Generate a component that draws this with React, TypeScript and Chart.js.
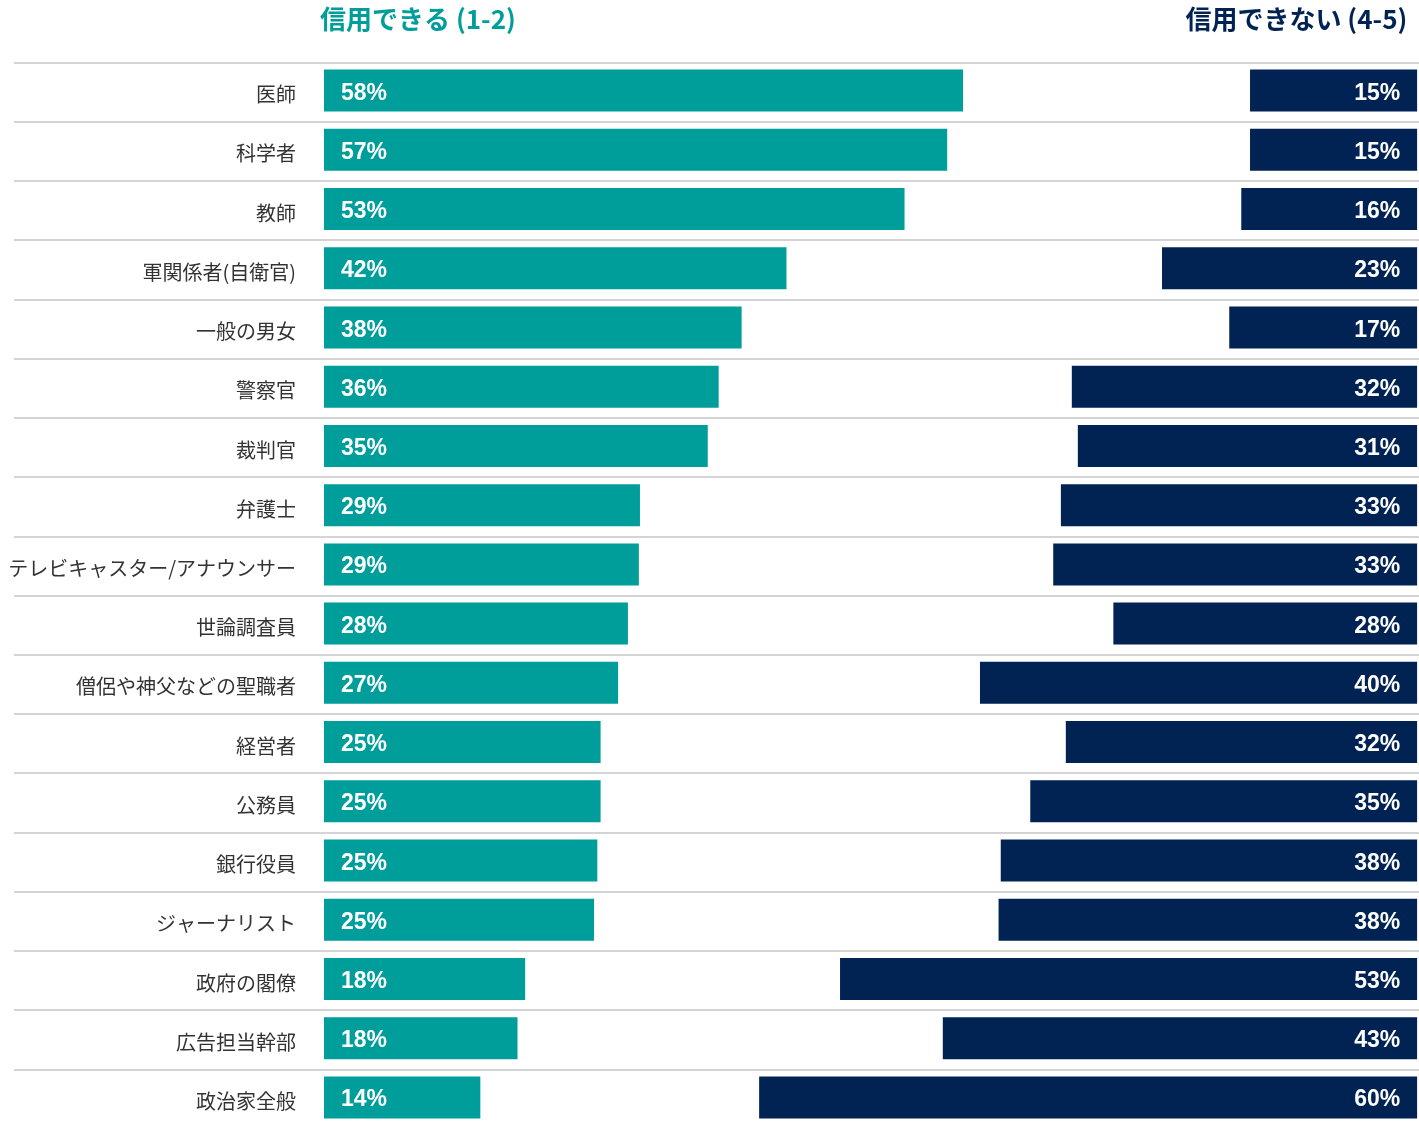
import React, { useEffect, useRef } from "react";
import { Chart, registerables } from "chart.js";

Chart.register(...registerables);

const categories = [
  "医師",
  "科学者",
  "教師",
  "軍関係者(自衛官)",
  "一般の男女",
  "警察官",
  "裁判官",
  "弁護士",
  "テレビキャスター/アナウンサー",
  "世論調査員",
  "僧侶や神父などの聖職者",
  "経営者",
  "公務員",
  "銀行役員",
  "ジャーナリスト",
  "政府の閣僚",
  "広告担当幹部",
  "政治家全般",
];

// 信用できる (1-2)
const trustValues = [58.45, 57.0, 53.1, 42.3, 38.2, 36.1, 35.1, 28.9, 28.8, 27.8, 26.9, 25.3, 25.3, 25.0, 24.7, 18.4, 17.7, 14.3];
// どちらでもない (3) – drawn transparent
const neutralValues = [26.25, 27.7, 30.8, 34.35, 44.6, 32.3, 33.85, 38.5, 37.9, 44.4, 33.1, 42.55, 39.3, 36.9, 37.0, 28.8, 38.9, 25.5];
// 信用できない (4-5)
const distrustValues = [15.3, 15.3, 16.1, 23.35, 17.2, 31.6, 31.05, 32.6, 33.3, 27.8, 40.0, 32.15, 35.4, 38.1, 38.3, 52.8, 43.4, 60.2];

const trustLabels = ["58%", "57%", "53%", "42%", "38%", "36%", "35%", "29%", "29%", "28%", "27%", "25%", "25%", "25%", "25%", "18%", "18%", "14%"];
const distrustLabels = ["15%", "15%", "16%", "23%", "17%", "32%", "31%", "33%", "33%", "28%", "40%", "32%", "35%", "38%", "38%", "53%", "43%", "60%"];

const trustTitle = "信用できる (1-2)";
const distrustTitle = "信用できない (4-5)";

const TEAL = "#009e9a";
const NAVY = "#002353";
const JP_FONT = "'Noto Sans CJK JP', 'Noto Sans', sans-serif";
const NUM_FONT = "'Liberation Sans', Arial, sans-serif";

const separatorPlugin = {
  id: "separators",
  beforeDatasetsDraw(chart: any) {
    const { ctx } = chart;
    const y = chart.scales.y;
    ctx.save();
    ctx.strokeStyle = "#d4d4d4";
    ctx.lineWidth = 2;
    for (let i = 0; i < categories.length; i++) {
      const yy = Math.round(y.getPixelForValue(i) - 27.8);
      ctx.beginPath();
      ctx.moveTo(14, yy);
      ctx.lineTo(chart.width, yy);
      ctx.stroke();
    }
    ctx.restore();
  },
};

const labelPlugin = {
  id: "valueLabels",
  afterDatasetsDraw(chart: any) {
    const { ctx } = chart;
    ctx.save();
    ctx.fillStyle = "#ffffff";
    ctx.font = `bold 23px ${NUM_FONT}`;
    ctx.textBaseline = "alphabetic";
    const m0 = chart.getDatasetMeta(0);
    m0.data.forEach((bar: any, i: number) => {
      const p = bar.getProps(["x", "y", "base"], true);
      ctx.textAlign = "left";
      ctx.fillText(trustLabels[i], p.base + 17, p.y + 9);
    });
    const m2 = chart.getDatasetMeta(2);
    m2.data.forEach((bar: any, i: number) => {
      const p = bar.getProps(["x", "y", "base"], true);
      ctx.textAlign = "right";
      ctx.fillText(distrustLabels[i], p.x - 17, p.y + 9);
    });
    ctx.restore();
  },
};

const headerPlugin = {
  id: "headers",
  afterDraw(chart: any) {
    const { ctx, chartArea } = chart;
    ctx.save();
    ctx.font = `bold 26px ${JP_FONT}`;
    ctx.textBaseline = "middle";
    ctx.fillStyle = TEAL;
    ctx.textAlign = "left";
    ctx.fillText(trustTitle, chartArea.left - 4, 19);
    ctx.fillStyle = NAVY;
    ctx.textAlign = "right";
    ctx.fillText(distrustTitle, chartArea.right - 10, 19);
    ctx.restore();
  },
};

export default function App() {
  const ref = useRef<HTMLCanvasElement | null>(null);

  useEffect(() => {
    document.documentElement.style.overflow = "hidden";
    document.body.style.margin = "0";
    document.body.style.overflow = "hidden";
    const canvas = ref.current;
    if (!canvas) return;
    const chart = new Chart(canvas, {
      type: "bar",
      data: {
        labels: categories,
        datasets: [
          { label: trustTitle, data: trustValues, backgroundColor: TEAL },
          { label: "neutral", data: neutralValues, backgroundColor: "rgba(0,0,0,0)" },
          { label: distrustTitle, data: distrustValues, backgroundColor: NAVY },
        ],
      },
      options: {
        indexAxis: "y",
        responsive: false,
        maintainAspectRatio: false,
        animation: false,
        layout: { padding: { top: 61, right: 1.7, bottom: 0, left: 0 } },
        datasets: { bar: { categoryPercentage: 1, barPercentage: 42 / 59.2 } },
        plugins: {
          legend: { display: false },
          tooltip: { enabled: false },
          title: { display: false },
        },
        scales: {
          x: { stacked: true, min: 0, max: 100, display: false },
          y: {
            stacked: true,
            grid: { display: false, drawTicks: false },
            border: { display: false },
            ticks: {
              color: "#333333",
              font: { family: JP_FONT, size: 20 },
              padding: 28,
              labelOffset: 4,
            },
            afterFit: (scale: any) => {
              scale.width = 324;
              scale.paddingTop = 0;
              scale.paddingBottom = 0;
            },
          },
        },
      },
      plugins: [separatorPlugin, labelPlugin, headerPlugin],
    } as any);
    return () => chart.destroy();
  }, []);

  return (
    <div style={{ width: 1419, height: 1124, overflow: "hidden", background: "#ffffff" }}>
      <canvas ref={ref} width={1419} height={1127} style={{ display: "block" }} />
    </div>
  );
}
